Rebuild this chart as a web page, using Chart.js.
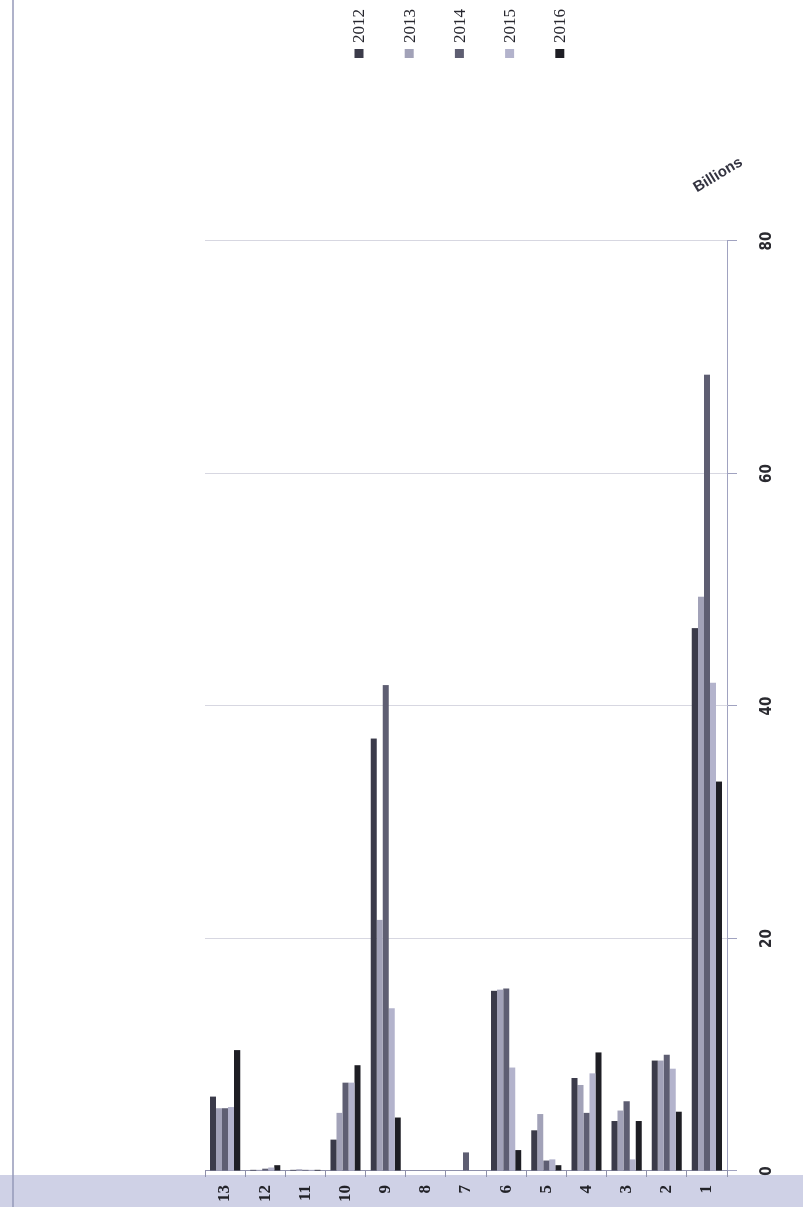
<!DOCTYPE html>
<html>
<head>
<meta charset="utf-8">
<script src="https://cdn.jsdelivr.net/npm/chart.js"></script>
<style>
  html, body { margin: 0; padding: 0; background: #fff; overflow: hidden; }
  /* the scanned chart is a horizontal bar chart turned a quarter turn to the left */
  #wrap {
    position: absolute; left: 0; top: 0; width: 1207px; height: 803px;
    transform-origin: 0 0;
    transform: translateY(1207px) rotate(-90deg);
  }
</style>
</head>
<body>
<div id="wrap"><canvas id="chart" width="1207" height="803"></canvas></div>
<script>
const categories = ['1', '2', '3', '4', '5', '6', '7', '8', '9', '10', '11', '12', '13'];
const seriesNames = ['2012', '2013', '2014', '2015', '2016'];
const values2012 = [46.7, 9.5, 4.3, 8.0, 3.5, 15.5, 0, 0, 37.2, 2.7, 0.1, 0.1, 6.4];
const values2013 = [49.4, 9.5, 5.2, 7.4, 4.9, 15.6, 0, 0, 21.6, 5.0, 0.15, 0.1, 5.4];
const values2014 = [68.5, 10.0, 6.0, 5.0, 0.9, 15.7, 1.6, 0, 41.8, 7.6, 0.1, 0.2, 5.4];
const values2015 = [42.0, 8.8, 1.0, 8.4, 1.0, 8.9, 0, 0, 14.0, 7.6, 0.1, 0.3, 5.5];
const values2016 = [33.5, 5.1, 4.3, 10.2, 0.5, 1.8, 0, 0, 4.6, 9.1, 0.1, 0.5, 10.4];
const valueTicks = [0, 20, 40, 60, 80];
const unitLabel = 'Billions';

const colors = ['#3b3b4a', '#a2a2b8', '#5e5e72', '#b3b3cc', '#1e1e24'];
const allValues = [values2012, values2013, values2014, values2015, values2016];

// paper, scanner strip and frame line
const backdrop = {
    id: 'backdrop',
    beforeDraw(chart) {
        const ctx = chart.ctx;
        ctx.save();
        ctx.fillStyle = '#ffffff';
        ctx.fillRect(0, 0, chart.width, chart.height);
        ctx.fillStyle = '#cfd1e6';
        ctx.fillRect(0, 0, 32, chart.height);
        ctx.strokeStyle = '#9498b8';
        ctx.lineWidth = 1.5;
        ctx.beginPath();
        ctx.moveTo(0, 13);
        ctx.lineTo(chart.width, 13);
        ctx.stroke();
        ctx.restore();
    }
};

// legend list at the right and the display-unit label
const extras = {
    id: 'extras',
    afterDraw(chart) {
        const ctx = chart.ctx;
        ctx.save();
        ctx.textBaseline = 'middle';
        ctx.textAlign = 'left';
        ctx.font = '17px "Liberation Serif", serif';
        chart.data.datasets.forEach(function (ds, i) {
            const y = 359 + i * 50.2;
            ctx.fillStyle = ds.backgroundColor;
            ctx.fillRect(1149, y - 4.5, 9, 9);
            ctx.fillStyle = '#26262e';
            ctx.fillText(ds.label, 1164, y + 1);
        });

        const xs = chart.scales.x;
        ctx.translate(xs.getPixelForValue(80) + 66, 718);
        ctx.rotate(59 * Math.PI / 180);
        ctx.textAlign = 'center';
        ctx.font = 'bold 15px "Liberation Sans", sans-serif';
        ctx.fillStyle = '#333340';
        ctx.fillText(unitLabel, 0, 0);
        ctx.restore();
    }
};

const datasets = seriesNames.map(function (name, i) {
    return {
        label: name,
        data: allValues[i],
        backgroundColor: colors[i],
        borderWidth: 0,
        categoryPercentage: 0.75,
        barPercentage: 1.0
    };
});

new Chart(document.getElementById('chart').getContext('2d'), {
    type: 'bar',
    data: { labels: categories, datasets: datasets },
    plugins: [backdrop, extras],
    options: {
        indexAxis: 'y',
        responsive: false,
        animation: false,
        devicePixelRatio: 1,
        layout: { padding: { top: 205, right: 241, bottom: 0, left: 0 } },
        plugins: {
            legend: { display: false },
            tooltip: { enabled: false }
        },
        scales: {
            x: {
                min: 0,
                max: 80,
                afterBuildTicks: function (scale) {
                    scale.ticks = valueTicks.map(v => ({ value: v }));
                },
                afterFit: function (scale) { scale.height = 76; },
                ticks: {
                    padding: 21,
                    color: '#2a2a30',
                    font: { family: '"DejaVu Sans Condensed", "Liberation Sans", sans-serif', size: 15, weight: 'bold' }
                },
                grid: { color: 'rgba(140,140,170,0.35)', tickLength: 10, tickColor: '#a0a2c0' },
                border: { color: '#a0a2c0' }
            },
            y: {
                reverse: true,
                afterFit: function (scale) { scale.width = 36; },
                ticks: {
                    padding: 8,
                    color: '#222228',
                    font: { family: '"Liberation Serif", serif', size: 17, weight: 'bold' }
                },
                grid: { drawOnChartArea: false, offset: true, tickLength: 6, color: '#8e90aa' },
                border: { color: '#8e90aa' }
            }
        }
    }
});
</script>
</body>
</html>
